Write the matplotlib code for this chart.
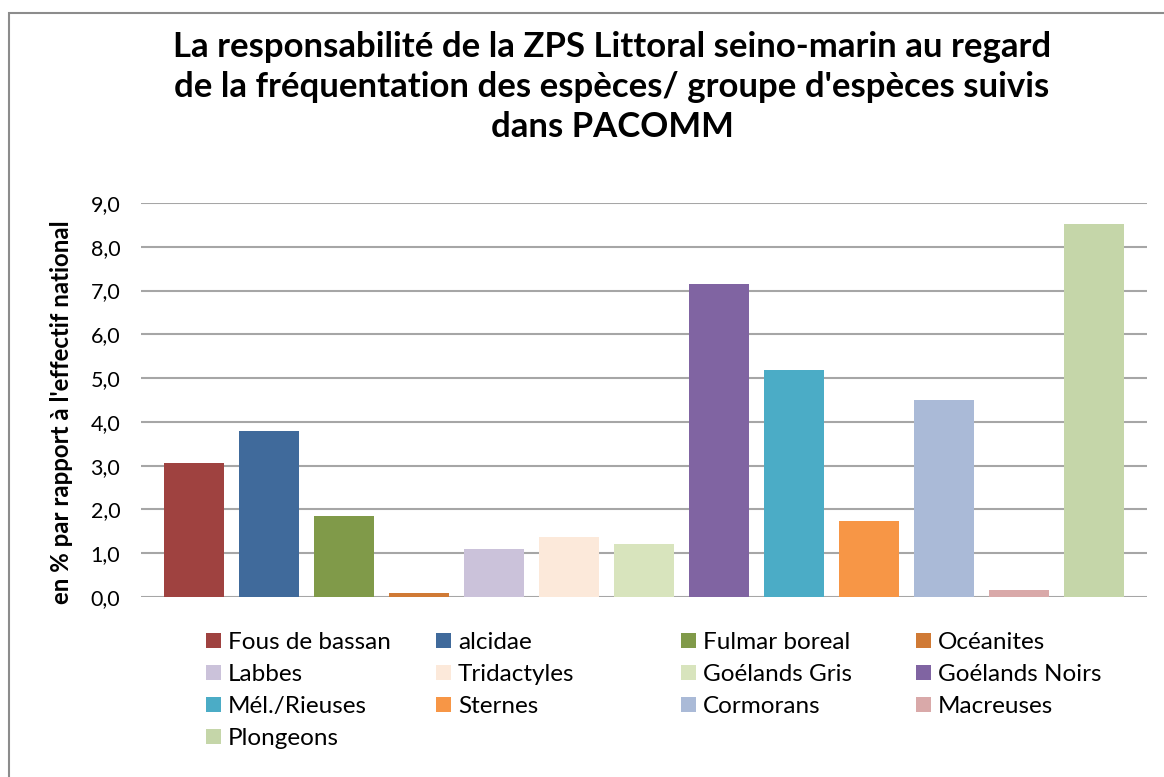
import numpy as np
import matplotlib.pyplot as plt
from matplotlib.patches import Rectangle, Patch

# Values (% of the national population)
especes = ["Fous de bassan", "alcidae", "Fulmar boreal", "Océanites",
           "Labbes", "Tridactyles", "Goélands Gris", "Goélands Noirs",
           "Mél./Rieuses", "Sternes", "Cormorans", "Macreuses", "Plongeons"]
valeurs = [3.06, 3.80, 1.85, 0.10, 1.09, 1.38, 1.21, 7.16, 5.19, 1.74, 4.50, 0.16, 8.51]
couleurs = ["#9F4240", "#406A9B", "#809A49", "#D07A35", "#CBC2DA", "#FCE9DA",
            "#D8E4BD", "#8064A2", "#4BACC6", "#F79646", "#AABAD7", "#D9A9A9",
            "#C5D6A9"]
yticks = np.arange(0, 10, 1.0)

plt.rcParams['font.family'] = ['Lato', 'DejaVu Sans']

W, H = 1164, 777
fig = plt.figure(figsize=(W / 100, H / 100), dpi=100)

# chart border (only top and left visible in the crop)
fig.patches.append(Rectangle((9 / W, -0.1), 1.2, 1 - 13 / H + 0.1,
                             transform=fig.transFigure, fill=False,
                             edgecolor="#8C8C8C", linewidth=1.5))

ax = fig.add_axes([141 / W, 1 - 597 / H, (1147 - 141) / W, (597 - 203) / H])
x = np.arange(len(valeurs))
ax.bar(x, valeurs, width=0.8, color=couleurs, zorder=3)
ax.set_xlim(-0.7, len(valeurs) - 0.3)
ax.set_ylim(0, 9)
ax.set_yticks(yticks)
ax.set_yticklabels([("%.1f" % v).replace(".", ",") for v in yticks], fontsize=15.5)
ax.tick_params(axis="y", length=0, pad=15)
ax.set_xticks([])
ax.grid(axis="y", color="#A6A6A6", linewidth=1.5, zorder=0)
for s in ax.spines.values():
    s.set_visible(False)

fig.text(62 / W, 1 - 412 / H, "en % par rapport à l'effectif national",
         rotation=90, ha="center", va="center", fontsize=17.3, fontweight="bold")

fig.text(612 / W, 1 - 87 / H,
         "La responsabilité de la ZPS Littoral seino-marin au regard\n"
         "de la fréquentation des espèces/ groupe d'espèces suivis\n"
         "dans PACOMM",
         ha="center", va="center", fontsize=25, fontweight="bold",
         linespacing=1.31)

# legend, 4 columns filled row by row
col_x = [206, 436, 681, 916]
for c in range(4):
    idx = list(range(c, len(especes), 4))
    handles = [Patch(facecolor=couleurs[i]) for i in idx]
    fig.legend(handles, [especes[i] for i in idx], loc="upper left",
               bbox_to_anchor=(col_x[c] / W, 1 - 632 / H), frameon=False,
               fontsize=17.5, handlelength=0.6, handleheight=0.6,
               handletextpad=0.3, labelspacing=0.45, borderpad=0,
               borderaxespad=0)

fig.savefig("out.png", dpi=100)
